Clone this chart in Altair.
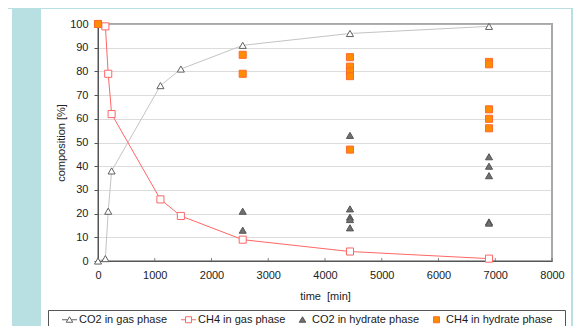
import altair as alt
import pandas as pd

series_names = ["CO2 in gas phase", "CH4 in gas phase", "CO2 in hydrate phase", "CH4 in hydrate phase"]

co2_gas_t = [0, 130, 180, 240, 1100, 1460, 2550, 4440, 6890]
co2_gas_v = [0, 1, 21, 38, 74, 81, 91, 96, 99]
ch4_gas_t = [0, 130, 180, 240, 1100, 1460, 2550, 4440, 6890]
ch4_gas_v = [100, 99, 79, 62, 26, 19, 9, 4, 1]
co2_hyd_t = [2550, 2550, 4440, 4440, 4440, 4440, 4440, 6890, 6890, 6890, 6890, 6890]
co2_hyd_v = [21, 13, 53, 22, 18.5, 17.5, 14, 44, 40, 36, 16.5, 16]
ch4_hyd_t = [0, 2550, 2550, 4440, 4440, 4440, 4440, 4440, 6890, 6890, 6890, 6890, 6890]
ch4_hyd_v = [100, 87, 79, 86, 82, 80, 78, 47, 84, 83, 64, 60, 56]

x_ticks = list(range(0, 8001, 1000))
y_ticks = list(range(0, 101, 10))

rows = []
for name, ts, vs in [
    (series_names[0], co2_gas_t, co2_gas_v),
    (series_names[1], ch4_gas_t, ch4_gas_v),
    (series_names[2], co2_hyd_t, co2_hyd_v),
    (series_names[3], ch4_hyd_t, ch4_hyd_v),
]:
    for t, v in zip(ts, vs):
        rows.append({"series": name, "time": t, "value": v})
df = pd.DataFrame(rows)
df_gas = df[df["series"].isin(series_names[:2])]
df_xt = pd.DataFrame({"time": x_ticks})

FONT = "Liberation Sans"
TEAL = "#b8e0e3"
W, H = 454, 237
PL, PT = 90, 16
TOTAL_W, TOTAL_H = 565, 318
OX, OY = 8 + PL, 8 + PT  # page position of plot origin

stroke_range = ["#606060", "#ff6666", "#555555", "#ff6a30"]
fill_range = ["white", "white", "#707070", "#ff8c00"]
line_range = ["#c4c4c4", "#ff6666"]
plot_shapes = ["triangle-up", "square", "triangle-up", "square"]
legend_shapes = [
    "M-1.5,0H-0.35M0.35,0H1.5M0,-0.6L0.65,0.5L-0.65,0.5Z",
    "M-1.5,0H-0.6M0.6,0H1.5M-0.6,-0.6H0.6V0.6H-0.6Z",
    "M0,-0.6L0.65,0.5L-0.65,0.5Z",
    "M-0.6,-0.6H0.6V0.6H-0.6Z",
]

x_scale = alt.Scale(domain=[0, 8000], nice=False)
x_enc = alt.X("time:Q", scale=x_scale,
              axis=alt.Axis(values=x_ticks, grid=False, title="time\u00a0\u00a0[min]",
                            ticks=False, labelPadding=8, titlePadding=10, format="d",
                            labelFlush=False, labelOverlap=False))
y_enc = alt.Y("value:Q", scale=alt.Scale(domain=[0, 100], nice=False),
              axis=alt.Axis(values=y_ticks, grid=True, title="composition [%]",
                            gridColor="#b8b8b8", gridDash=[1, 1], gridWidth=1,
                            tickSize=4, labelPadding=6, titlePadding=3,
                            labelFlush=False, labelOverlap=False))

one = pd.DataFrame({"a": [0]})

def deco(x, x2, y, y2, fill):
    return alt.Chart(one).mark_rect(fill=fill).encode(
        x=alt.value(x), x2=alt.value(x2), y=alt.value(y), y2=alt.value(y2))

teal_left = deco(12 - OX, 41 - OX, -PT, 320, TEAL)
teal_top = deco(-PL, 490, -PT, 9 - OY, TEAL)
teal_right = deco(571 - OX, 490, -PT, 320, TEAL)
legend_box = alt.Chart(one).mark_rect(fill=None, stroke="#555555", strokeWidth=1).encode(
    x=alt.value(48 - OX + 0.5), x2=alt.value(565 - OX + 0.5),
    y=alt.value(310 - OY + 0.5), y2=alt.value(340))

x_tick_marks = alt.Chart(df_xt).mark_tick(orient="vertical", size=3, thickness=1, color="#555555").encode(
    x=alt.X("time:Q", scale=x_scale), y=alt.value(H - 1.5))

lines = alt.Chart(df_gas).mark_line(strokeWidth=1).encode(
    x=x_enc, y=y_enc,
    stroke=alt.Stroke("series:N", scale=alt.Scale(domain=series_names[:2], range=line_range), legend=None),
)

points = alt.Chart(df).mark_point(opacity=1, strokeWidth=1, size=50, filled=False).encode(
    x=x_enc, y=y_enc,
    shape=alt.Shape("series:N", scale=alt.Scale(domain=series_names, range=plot_shapes), legend=None),
    stroke=alt.Stroke("series:N", scale=alt.Scale(domain=series_names, range=stroke_range), legend=None),
    fill=alt.Fill("series:N", scale=alt.Scale(domain=series_names, range=fill_range), legend=None),
)

leg = alt.Legend(title=None, orient="none", legendX=64 - OX, legendY=314 - OY,
                 direction="horizontal", columns=4, columnPadding=11, labelOffset=4,
                 symbolSize=100, padding=0, labelFont=FONT, labelFontSize=11,
                 labelColor="#1a1a1a", labelLimit=0, symbolStrokeWidth=1)

legend_layer = alt.Chart(df).transform_filter("datum.value > 1000").mark_point(
    opacity=1, strokeWidth=1, size=100, filled=False).encode(
    shape=alt.Shape("series:N", scale=alt.Scale(domain=series_names, range=legend_shapes), legend=leg),
    stroke=alt.Stroke("series:N", scale=alt.Scale(domain=series_names, range=stroke_range), legend=leg),
    fill=alt.Fill("series:N", scale=alt.Scale(domain=series_names, range=fill_range), legend=leg),
)

chart = alt.layer(teal_left, teal_top, teal_right, legend_box, x_tick_marks, lines, points, legend_layer).resolve_scale(
    shape="independent", stroke="independent", fill="independent"
).properties(
    width=W, height=H,
    autosize=alt.AutoSizeParams(type="none"),
    padding={"left": PL, "top": PT, "right": TOTAL_W - PL - W, "bottom": TOTAL_H - PT - H},
    background="white",
).configure_view(
    stroke="#a8a8a8", strokeWidth=2
).configure_axis(
    labelFont=FONT, labelFontSize=11, labelColor="#222222",
    titleFont=FONT, titleFontSize=11, titleFontWeight="normal", titleColor="#222222",
    domainColor="#555555", tickColor="#555555", domainWidth=1,
)

chart.save("out.html", embed_options={"renderer": "svg", "actions": False})
